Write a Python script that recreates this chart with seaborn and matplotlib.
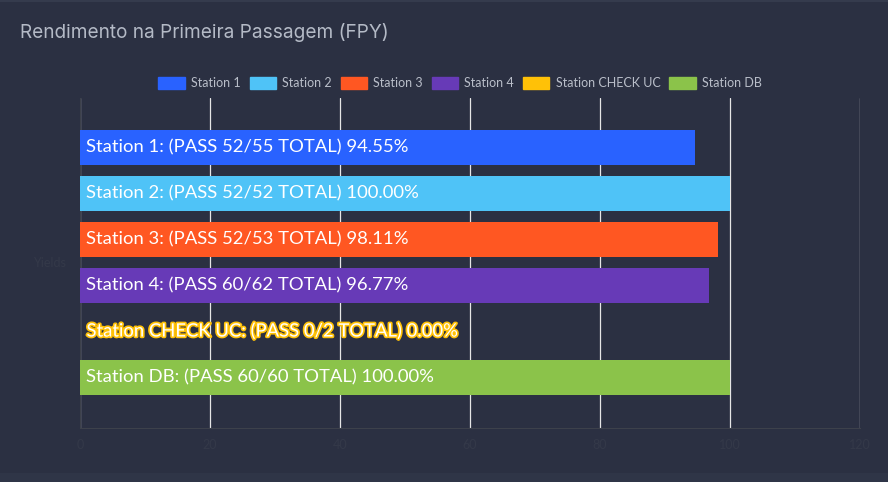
import matplotlib
matplotlib.use("Agg")
import matplotlib.pyplot as plt
import matplotlib.patheffects as pe
from matplotlib.patches import Patch, Rectangle
import seaborn as sns
import pandas as pd

stations = ["Station 1", "Station 2", "Station 3", "Station 4", "Station CHECK UC", "Station DB"]
passed = [52, 52, 52, 60, 0, 60]
totals = [55, 52, 53, 62, 2, 60]
yields = [94.55, 100.00, 98.11, 96.77, 0.00, 100.00]
colors = ["#2962ff", "#4fc3f7", "#ff5722", "#673ab7", "#ffc107", "#8bc34a"]
xticks = [0, 20, 40, 60, 80, 100, 120]

bg = "#2b3042"
sns.set_style("white")
plt.rcParams["font.family"] = ["Lato", "DejaVu Sans"]

df = pd.DataFrame({"station": stations, "fpy": yields})

fig = plt.figure(figsize=(8.88, 4.82), dpi=100, facecolor=bg)
ax = fig.add_axes([80/888, 1-428/482, 780/888, 330/482])
ax.set_facecolor(bg)

sns.barplot(data=df, x="fpy", y="station", hue="station", palette=colors,
            order=stations, hue_order=stations, dodge=False, legend=False,
            width=0.76, saturation=1, linewidth=0, ax=ax, zorder=3)

ax.set_xlim(0, 120)
ax.set_ylim(6.1, -1.08)
ax.set_xticks(xticks)
ax.tick_params(axis="x", colors="#343949", labelsize=9, length=0, pad=8)
ax.set_yticks([])
ax.grid(axis="x", color="#e6e6e6", linewidth=0.9, zorder=0)
for s in ["top", "right"]:
    ax.spines[s].set_visible(False)
ax.spines["bottom"].set_color("#3d414b")
ax.spines["left"].set_color("#3d414b")
ax.set_xlabel("")
ax.set_ylabel("Yields", color="#343949", fontsize=9, rotation=0, labelpad=22, va="center")

for i, st in enumerate(stations):
    txt = f"{st}: (PASS {passed[i]}/{totals[i]} TOTAL) {yields[i]:.2f}%"
    t = ax.text(1, i, txt, color="white", fontsize=13.3, va="center", ha="left", zorder=5)
    if yields[i] == 0:
        t.set_path_effects([pe.withStroke(linewidth=2.4, foreground=colors[i])])

handles = [Patch(facecolor=c, edgecolor=c, label=s) for s, c in zip(stations, colors)]
leg = fig.legend(handles=handles, loc="center", bbox_to_anchor=(460/888, 1-83/482), ncol=6,
                 frameon=False, fontsize=9, handlelength=2.1, handleheight=1.1,
                 handletextpad=0.5, columnspacing=0.72, labelcolor="#b9bec9")

fig.text(20/888, 1-33/482, "Rendimento na Primeira Passagem (FPY)", color="#b4bac6",
         fontsize=13.7, va="center", ha="left", family=["Inter", "DejaVu Sans"])

fig.patches.append(Rectangle((0, 0), 1, 9/482, transform=fig.transFigure,
                             facecolor="#2f3547", edgecolor="none", zorder=0))
fig.patches.append(Rectangle((0, 1-2/482), 1, 2/482, transform=fig.transFigure,
                             facecolor="#353b4d", edgecolor="none", zorder=0))

fig.savefig("out.png", dpi=100, facecolor=bg)
